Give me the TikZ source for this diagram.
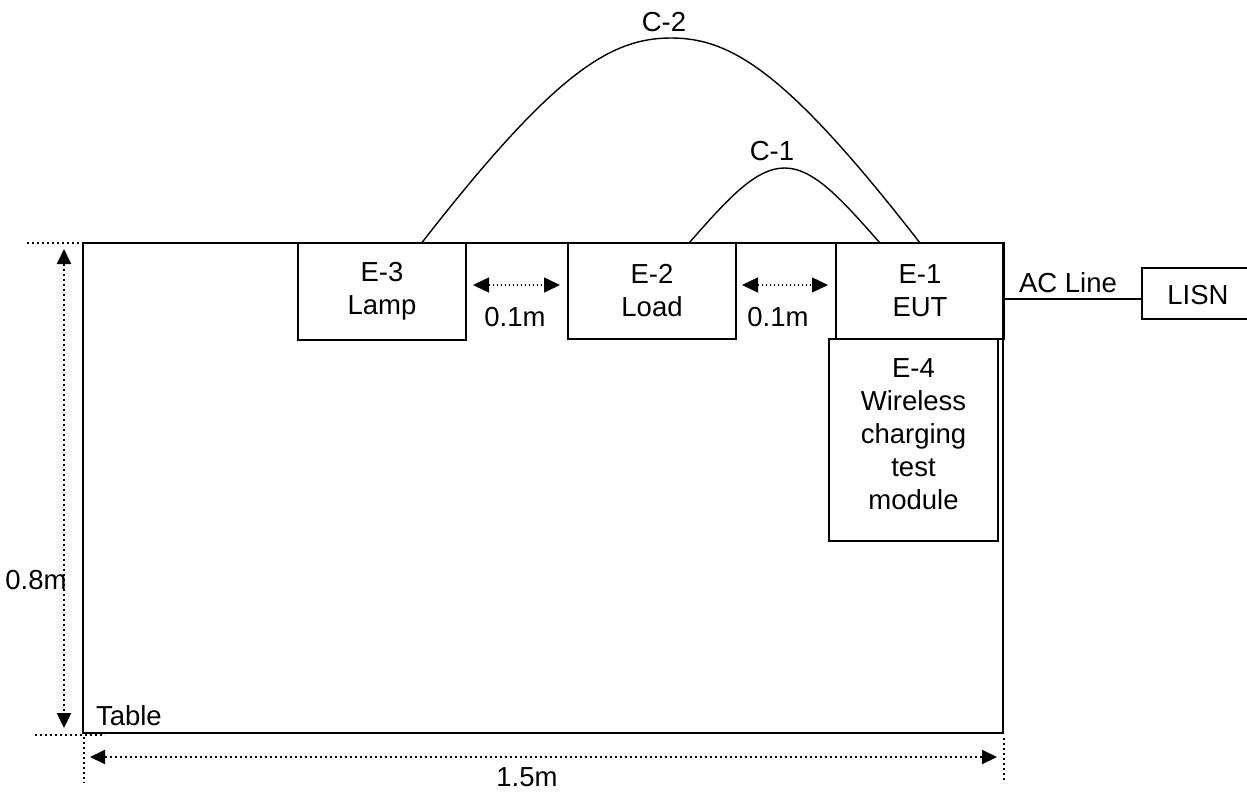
\documentclass[tikz,border=0pt]{standalone}
\usepackage{fontspec}
\setmainfont{Liberation Sans}
\usetikzlibrary{arrows.meta,calc}
\begin{document}
\begin{tikzpicture}[x=1pt,y=-1pt,
  every node/.style={font=\fontsize{27.5}{33}\selectfont, inner sep=0pt, outer sep=0pt},
  box/.style={draw, line width=2pt, align=center},
  dimline/.style={line width=2pt, dash pattern=on 2pt off 3pt},
  thindim/.style={line width=1.4pt, dash pattern=on 1.4pt off 2.6pt},
  dimarrow/.style={dimline, {Triangle[length=15pt,width=14pt]}-{Triangle[length=15pt,width=14pt]}},
  gaparrow/.style={thindim, {Triangle[length=16pt,width=15pt]}-{Triangle[length=16pt,width=15pt]}},
  cable/.style={line width=1.4pt},
]
\useasboundingbox (0,0) rectangle (1247,800);
\clip (0,0) rectangle (1247,800);

% table
\node[box, line width=2.3pt, minimum width=920pt, minimum height=490pt, anchor=north west] (table) at (83,243) {};
\node[anchor=west] (tablelbl) at (96,716) {Table};

% equipment
\node[box, minimum width=168pt, minimum height=97pt] (e3) at (382,291) {E-3\\Lamp};
\node[box, minimum width=168pt, minimum height=96pt] (e2) at (652,291) {E-2\\Load};
\node[box, minimum width=168pt, minimum height=96pt] (e1) at (920,291) {E-1\\EUT};
\node[box, minimum width=169pt, minimum height=202pt, text depth=12pt] (e4) at (913.5,440) {E-4\\Wireless\\charging\\test\\module};
\node[box, minimum width=110pt, minimum height=51pt] (lisn) at (1197,293.5) {};
\node (lisnlbl) at (1198,295) {LISN};

% AC line
\coordinate (acy) at (0,299);
\draw[cable] (e1.east |- acy) -- (lisn.west |- acy);
\node (aclbl) at (1068,283) {AC Line};

% cables
\coordinate (c2top) at (671,38);
\draw[cable] ($(e3.north)+(40,0)$) .. controls (554,73) and (610,38) .. (c2top)
  .. controls (732,38) and (788,73) .. (e1.north);
\node (c2lbl) at (664,22) {C-2};
\coordinate (c1top) at (784.5,168);
\draw[cable] ($(e2.north)+(37,0)$) .. controls (727,200) and (755,168) .. (c1top)
  .. controls (814,168) and (842,200) .. ($(e1.north)+(-40,0)$);
\node (c1lbl) at (772,151) {C-1};

% gap arrows
\draw[gaparrow] ($(e3.east)+(7,-6)$) -- ($(e2.west)+(-8,-6)$);
\draw[gaparrow] ($(e2.east)+(6,-6)$) -- ($(e1.west)+(-8,-6)$);
\node (g1lbl) at (515,317) {0.1m};
\node (g2lbl) at (778,317) {0.1m};

% height dimension
\coordinate (htl) at (27,243);
\coordinate (htr) at (97,243);
\draw[dimline] (htl) -- (htr);
\coordinate (hbl) at (35,735);
\coordinate (hbr) at (105,735);
\draw[dimline] (hbl) -- (hbr);
\coordinate (ha) at (64,249);
\coordinate (hb) at (64,728);
\draw[dimarrow] (ha) -- (hb);
\node (hlbl) at (36,580) {0.8m};

% width dimension
\coordinate (wl1) at (84,737);
\coordinate (wl2) at (84,783);
\draw[dimline] (wl1) -- (wl2);
\coordinate (wr1) at (1004,738);
\coordinate (wr2) at (1004,783);
\draw[dimline] (wr1) -- (wr2);
\coordinate (wa) at (90,757);
\coordinate (wb) at (997,757);
\draw[dimarrow] (wa) -- (wb);
\node (wlbl) at (527,777) {1.5m};
\end{tikzpicture}
\end{document}
